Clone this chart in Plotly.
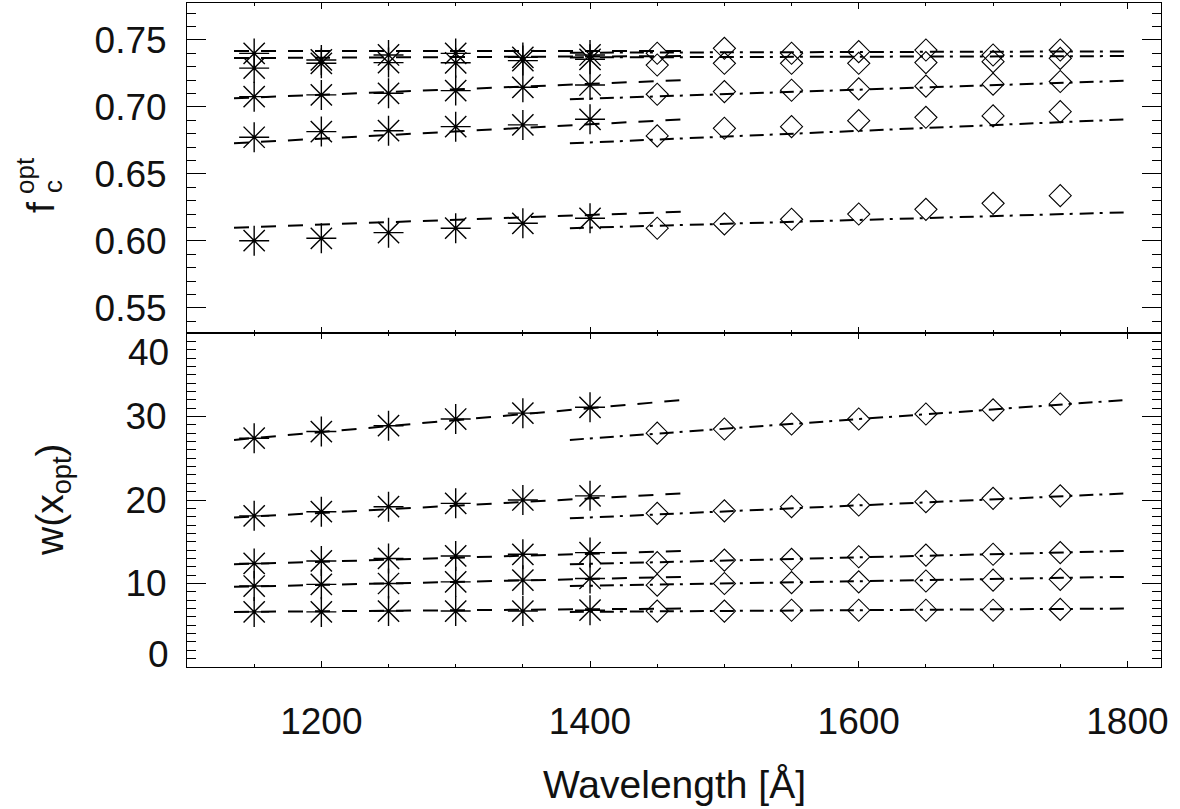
import plotly.graph_objects as go
from plotly.subplots import make_subplots

# ---------------- data ----------------
wl_ast = [1150, 1200, 1250, 1300, 1350, 1400]
wl_dia = [1450, 1500, 1550, 1600, 1650, 1700, 1750]

fc_ast = [
    [0.7400, 0.7351, 0.7388, 0.7400, 0.7370, 0.7388],
    [0.7290, 0.7326, 0.7331, 0.7330, 0.7346, 0.7356],
    [0.7077, 0.7090, 0.7102, 0.7122, 0.7147, 0.7164],
    [0.6774, 0.6816, 0.6823, 0.6853, 0.6866, 0.6908],
    [0.6002, 0.6020, 0.6062, 0.6095, 0.6132, 0.6169],
]
fc_dia = [
    [0.7401, 0.7438, 0.7401, 0.7413, 0.7425, 0.7388, 0.7425],
    [0.7313, 0.7326, 0.7326, 0.7326, 0.7331, 0.7338, 0.7363],
    [0.7095, 0.7115, 0.7125, 0.7135, 0.7155, 0.7170, 0.7190],
    [0.6784, 0.6841, 0.6853, 0.6898, 0.6923, 0.6933, 0.6965],
    [0.6095, 0.6127, 0.6162, 0.6201, 0.6236, 0.6281, 0.6338],
]

w_ast = [
    [27.4, 28.2, 28.9, 29.7, 30.4, 31.1],
    [18.1, 18.6, 19.2, 19.6, 20.0, 20.5],
    [12.4, 12.7, 13.0, 13.3, 13.5, 13.7],
    [9.7, 9.9, 10.0, 10.2, 10.4, 10.6],
    [6.6, 6.6, 6.7, 6.7, 6.7, 6.8],
]
w_dia = [
    [28.0, 28.5, 29.1, 29.7, 30.3, 30.8, 31.5],
    [18.4, 18.7, 19.2, 19.4, 19.8, 20.2, 20.5],
    [12.5, 12.8, 12.9, 13.2, 13.4, 13.5, 13.7],
    [9.8, 10.0, 10.1, 10.2, 10.3, 10.4, 10.5],
    [6.7, 6.7, 6.8, 6.8, 6.8, 6.8, 6.9],
]

# linear fits (end points)
fit_ast_x = [1135, 1470]
fit_dia_x = [1385, 1800]
fc_fit_ast = [[0.7418, 0.7418], [0.7365, 0.7380], [0.7065, 0.7201],
              [0.6729, 0.6908], [0.6099, 0.6219]]
fc_fit_dia = [[0.7405, 0.7415], [0.7370, 0.7380], [0.7057, 0.7196],
              [0.6729, 0.6908], [0.6095, 0.6214]]
w_fit_ast = [[27.2, 32.0], [17.9, 20.8], [12.3, 13.9], [9.6, 10.8], [6.6, 7.0]]
w_fit_dia = [[27.2, 32.0], [17.8, 20.8], [12.3, 13.9], [9.7, 10.8], [6.6, 7.0]]

x_tickvals = [1200, 1400, 1600, 1800]
fc_tickvals = [0.55, 0.60, 0.65, 0.70, 0.75]
fc_ticktext = ["0.55", "0.60", "0.65", "0.70", "0.75"]
w_tickvals = [0, 10, 20, 30, 40]
w_ticktext = ["0", "10", "20", "30", "40"]

# ---------------- figure ----------------
W, H = 1180, 809
L, R, T, B = 187, 19, 3, 142
plot_h = H - T - B
split_px = 333
FONT = "Liberation Sans, Arial, Helvetica, sans-serif"
TXT = "#111111"

fig = make_subplots(rows=2, cols=1, shared_xaxes=True, vertical_spacing=0)

dash_style = "15px,12px"
dashdot_style = "14px,6px,3px,7px"

for row, (ast, dia, fa, fd) in enumerate(
        [(fc_ast, fc_dia, fc_fit_ast, fc_fit_dia),
         (w_ast, w_dia, w_fit_ast, w_fit_dia)], start=1):
    for i in range(5):
        fig.add_trace(go.Scatter(x=fit_ast_x, y=fa[i], mode="lines",
                                 line=dict(color="black", width=2, dash=dash_style),
                                 showlegend=False, hoverinfo="skip"), row=row, col=1)
        fig.add_trace(go.Scatter(x=fit_dia_x, y=fd[i], mode="lines",
                                 line=dict(color="black", width=2, dash=dashdot_style),
                                 showlegend=False, hoverinfo="skip"), row=row, col=1)
        fig.add_trace(go.Scatter(x=wl_ast, y=ast[i], mode="markers",
                                 marker=dict(symbol="asterisk-open", size=25, color="black",
                                             line=dict(width=1.4, color="black")),
                                 showlegend=False), row=row, col=1)
        fig.add_trace(go.Scatter(x=wl_dia, y=dia[i], mode="markers",
                                 marker=dict(symbol="diamond-open", size=17, color="black",
                                             line=dict(width=1.1, color="black")),
                                 showlegend=False), row=row, col=1)

split_frac = (H - B - split_px) / plot_h

axis_common = dict(showline=True, linecolor="black", linewidth=1, mirror="ticks",
                   ticks="inside", tickcolor="black", tickwidth=1,
                   showgrid=False, zeroline=False, automargin=False,
                   tickfont=dict(family=FONT, size=37, color=TXT))

fig.update_xaxes(range=[1100, 1825], tickvals=x_tickvals, ticklen=6,
                 minor=dict(dtick=50, ticklen=3, ticks="inside", tickcolor="black",
                            showgrid=False),
                 **axis_common)
fig.update_xaxes(showticklabels=False, row=1, col=1)
fig.update_xaxes(ticklabelstandoff=22, row=2, col=1)

fig.update_yaxes(range=[0.5313, 0.7776], tickvals=fc_tickvals, ticktext=fc_ticktext,
                 ticklen=19, ticklabelstandoff=12,
                 minor=dict(dtick=0.01, tick0=0.5, ticklen=9, ticks="inside",
                            tickcolor="black", showgrid=False),
                 domain=[split_frac, 1], row=1, col=1, **axis_common)
# inner labels from the axis; end labels (0 and 40) as annotations pulled inside the panel
fig.update_yaxes(range=[0, 40], tickvals=w_tickvals[1:-1], ticktext=w_ticktext[1:-1],
                 ticklen=19, ticklabelstandoff=12,
                 minor=dict(dtick=1, tick0=0, ticklen=9, ticks="inside",
                            tickcolor="black", showgrid=False),
                 domain=[0, split_frac], row=2, col=1, **axis_common)


def px_x(p):
    return (p - L) / (W - L - R)


def px_y(p):
    return (H - B - p) / plot_h


ann = []
ann.append(dict(text=w_ticktext[-1], x=px_x(171), y=px_y(352), xref="paper", yref="paper",
                xanchor="right", yanchor="middle", showarrow=False,
                font=dict(family=FONT, size=37, color=TXT)))
ann.append(dict(text=w_ticktext[0], x=px_x(171), y=px_y(654), xref="paper", yref="paper",
                xanchor="right", yanchor="middle", showarrow=False,
                font=dict(family=FONT, size=37, color=TXT)))
ann.append(dict(text="Wavelength [Å]", x=0.5, y=px_y(784), xref="paper", yref="paper",
                xanchor="center", yanchor="middle", showarrow=False,
                font=dict(family=FONT, size=39, color=TXT)))
ann.append(dict(text="w(x<sub>opt</sub>)", x=px_x(52), y=px_y(500), xref="paper",
                yref="paper", xanchor="center", yanchor="middle", showarrow=False,
                textangle=-90, font=dict(family=FONT, size=39, color=TXT)))
# f_c^opt with stacked sub/superscript
ann.append(dict(text="f", x=px_x(41), y=px_y(208), xref="paper", yref="paper",
                xanchor="center", yanchor="middle", showarrow=False, textangle=-90,
                font=dict(family=FONT, size=39, color=TXT)))
ann.append(dict(text="c", x=px_x(53), y=px_y(187), xref="paper", yref="paper",
                xanchor="center", yanchor="middle", showarrow=False, textangle=-90,
                font=dict(family=FONT, size=26, color=TXT)))
ann.append(dict(text="opt", x=px_x(25), y=px_y(176), xref="paper", yref="paper",
                xanchor="center", yanchor="middle", showarrow=False, textangle=-90,
                font=dict(family=FONT, size=26, color=TXT)))

fig.update_layout(width=W, height=H, autosize=False,
                  margin=dict(l=L, r=R, t=T, b=B),
                  paper_bgcolor="white", plot_bgcolor="white",
                  showlegend=False, annotations=ann)

fig.write_html("out.html")
